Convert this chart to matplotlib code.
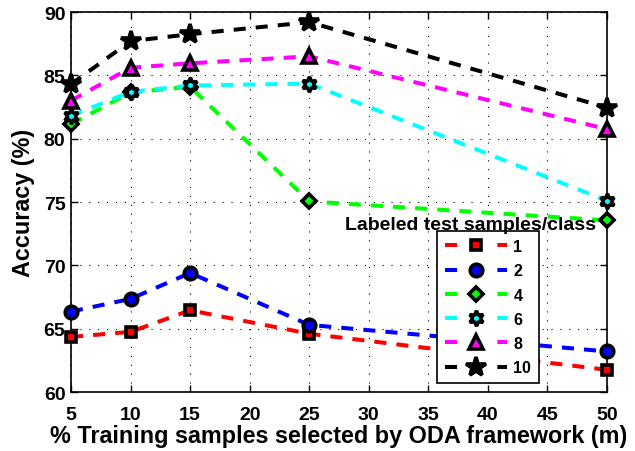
import matplotlib
matplotlib.use("Agg")
import matplotlib.pyplot as plt
from matplotlib.lines import Line2D

plt.rcParams['font.family'] = ['Liberation Sans', 'DejaVu Sans']
plt.rcParams['font.weight'] = 'bold'

x_vals = [5, 10, 15, 25, 50]
labels = ['1', '2', '4', '6', '8', '10']
acc_1 = [64.35, 64.75, 66.45, 64.6, 61.75]
acc_2 = [66.35, 67.35, 69.4, 65.3, 63.2]
acc_4 = [81.15, 83.65, 84.1, 75.05, 73.55]
acc_6 = [81.8, 83.7, 84.2, 84.35, 75.1]
acc_8 = [83.0, 85.6, 85.95, 86.5, 80.75]
acc_10 = [84.3, 87.7, 88.25, 89.2, 82.45]

series = [acc_1, acc_2, acc_4, acc_6, acc_8, acc_10]
colors = ['#ff0000', '#0000ff', '#00ff00', '#00ffff', '#ff00ff', '#000000']
markers = ['s', 'o', 'D', (6, 1, 0), '^', '*']
msizes = [6.9, 9.0, 6.8, 11.0, 9.5, 14.5]
x_ticks = [5, 10, 15, 20, 25, 30, 35, 40, 45, 50]
y_ticks = [60, 65, 70, 75, 80, 85, 90]

fig = plt.figure(figsize=(6.35, 4.52), dpi=100)
ax = fig.add_axes([0.1118, 0.1305, 0.8442, 0.8407])

style = dict(linewidth=2.9, markeredgecolor='black', markeredgewidth=2.6)

proxies = []
for vals, c, m, ms, lab in zip(series, colors, markers, msizes, labels):
    ax.plot(x_vals, vals, linestyle='--', dashes=(3.0, 2.5), color=c,
            marker=m, markersize=ms, markerfacecolor=c, clip_on=False,
            zorder=3, **style)
    proxies.append(Line2D([], [], linestyle='--', dashes=(3.0, 10.0), color=c,
                          marker=m, markersize=ms, markerfacecolor=c,
                          label=lab, **style))

ax.set_xlim(5, 50)
ax.set_ylim(60, 90)
ax.set_xticks(x_ticks)
ax.set_yticks(y_ticks)
ax.grid(True, linestyle=(0, (1, 7)), color='black', linewidth=0.8)
ax.tick_params(direction='in', length=5, width=1, top=True, right=True,
               labelsize=14)
ax.tick_params(axis='x', pad=10)
ax.tick_params(axis='y', pad=4)
for lab in ax.get_xticklabels() + ax.get_yticklabels():
    lab.set_fontweight('bold')
for sp in ax.spines.values():
    sp.set_linewidth(1.2)

ax.set_xlabel('% Training samples selected by ODA framework (m)',
              fontsize=16.8, fontweight='bold', labelpad=1)
ax.set_ylabel('Accuracy (%)', fontsize=16.8, fontweight='bold', labelpad=6)

leg = ax.legend(handles=proxies, loc='upper left',
                bbox_to_anchor=(0.683, 0.4237), borderaxespad=0,
                numpoints=1, handlelength=3.9, handletextpad=0.38,
                labelspacing=0.58, borderpad=0.5, fancybox=False,
                framealpha=1, edgecolor='black',
                prop={'weight': 'bold', 'size': 11.5})
leg.get_frame().set_linewidth(1.2)
leg.set_zorder(5)

ax.text(0.746, 0.442, 'Labeled test samples/class', transform=ax.transAxes,
        ha='center', va='center', fontsize=14, fontweight='bold', zorder=6)

fig.savefig('out.png', dpi=100)
